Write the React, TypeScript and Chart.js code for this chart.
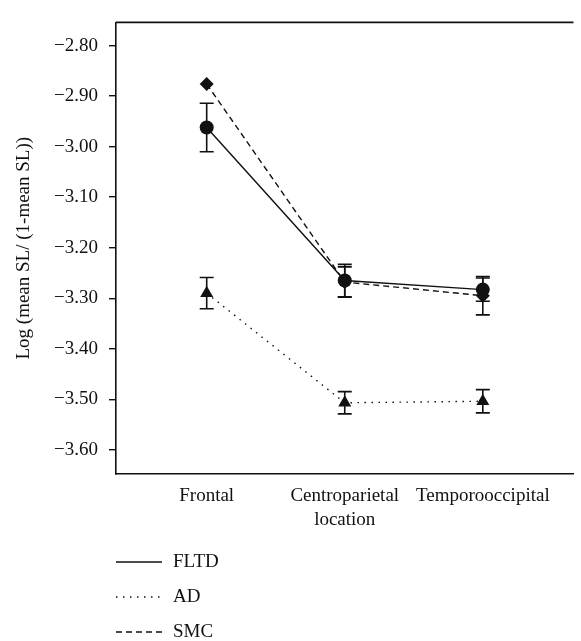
import React, { useEffect, useRef } from 'react';
import { Chart, registerables } from 'chart.js';

Chart.register(...registerables);

const categories = ['Frontal', 'Centroparietal', 'Temporooccipital'];
const categoryPositions = [1, 2, 3];
const seriesNames = ['FLTD', 'AD', 'SMC'];
const fltdMeans = [-2.962, -3.265, -3.283];
const fltdErrors = [0.048, 0.032, 0.023];
const adMeans = [-3.29, -3.507, -3.504];
const adErrors = [0.031, 0.022, 0.023];
const smcMeans = [-2.876, -3.268, -3.295];
const smcErrors = [0, 0.03, 0.038];
const yTickValues = [-2.8, -2.9, -3.0, -3.1, -3.2, -3.3, -3.4, -3.5, -3.6];
const xAxisTitle = 'location';
const yAxisTitle = 'Log (mean SL/ (1-mean SL))';

const FONT = "'Liberation Serif', 'Times New Roman', serif";
const FONT_SIZE = 19;
const INK = '#111111';

const errorsByDataset = [fltdErrors, adErrors, smcErrors];

const errorBarPlugin = {
  id: 'errorBars',
  beforeDatasetsDraw(chart: any) {
    const { ctx } = chart;
    const yScale = chart.scales.y;
    ctx.save();
    ctx.strokeStyle = INK;
    ctx.lineWidth = 1.6;
    ctx.setLineDash([]);
    chart.data.datasets.forEach((ds: any, i: number) => {
      const meta = chart.getDatasetMeta(i);
      const errs = errorsByDataset[i];
      meta.data.forEach((pt: any, j: number) => {
        const e = errs[j];
        if (!e) return;
        const v = ds.data[j].y;
        const x = pt.x;
        const yTop = yScale.getPixelForValue(v + e);
        const yBot = yScale.getPixelForValue(v - e);
        const cap = 7;
        ctx.beginPath();
        ctx.moveTo(x, yTop);
        ctx.lineTo(x, yBot);
        ctx.moveTo(x - cap, yTop);
        ctx.lineTo(x + cap, yTop);
        ctx.moveTo(x - cap, yBot);
        ctx.lineTo(x + cap, yBot);
        ctx.stroke();
      });
    });
    ctx.restore();
  },
};

const frameAndLegendPlugin = {
  id: 'frameAndLegend',
  afterDraw(chart: any) {
    const { ctx, chartArea } = chart;
    ctx.save();
    ctx.strokeStyle = INK;
    ctx.lineWidth = 1.6;
    ctx.setLineDash([]);
    ctx.beginPath();
    ctx.moveTo(chartArea.left, chartArea.top);
    ctx.lineTo(chartArea.right, chartArea.top);
    ctx.stroke();

    const startY = chartArea.bottom + 88;
    const step = 35;
    const x0 = chartArea.left;
    const x1 = chartArea.left + 46;
    ctx.font = `${FONT_SIZE}px ${FONT}`;
    ctx.textBaseline = 'middle';
    ctx.textAlign = 'left';
    chart.data.datasets.forEach((ds: any, i: number) => {
      const y = startY + i * step;
      ctx.strokeStyle = INK;
      ctx.lineWidth = ds.borderWidth;
      ctx.setLineDash(ds.borderDash || []);
      ctx.beginPath();
      ctx.moveTo(x0, y);
      ctx.lineTo(x1, y);
      ctx.stroke();
      ctx.setLineDash([]);
      ctx.fillStyle = INK;
      ctx.fillText(ds.label, x1 + 11, y);
    });
    ctx.restore();
  },
};

function toPoints(values: number[]) {
  return values.map((v, i) => ({ x: categoryPositions[i], y: v }));
}

export default function App() {
  const canvasRef = useRef<HTMLCanvasElement | null>(null);

  useEffect(() => {
    if (!canvasRef.current) return;
    const common = {
      showLine: true,
      borderColor: INK,
      backgroundColor: INK,
      pointBackgroundColor: INK,
      pointBorderColor: INK,
      pointBorderWidth: 0,
      borderWidth: 1.4,
      fill: false,
      tension: 0,
    };
    const chart = new Chart(canvasRef.current, {
      type: 'scatter',
      data: {
        datasets: [
          {
            ...common,
            label: seriesNames[0],
            data: toPoints(fltdMeans),
            pointStyle: 'circle',
            pointRadius: 7,
            borderDash: [],
          },
          {
            ...common,
            label: seriesNames[1],
            data: toPoints(adMeans),
            pointStyle: 'triangle',
            pointRadius: 7.5,
            borderDash: [1.5, 5.5],
          },
          {
            ...common,
            label: seriesNames[2],
            data: toPoints(smcMeans),
            pointStyle: 'rectRot',
            pointRadius: 7,
            borderDash: [6, 4],
          },
        ],
      } as any,
      options: {
        animation: false,
        responsive: false,
        maintainAspectRatio: false,
        layout: { padding: { top: 9, right: 3, bottom: 107, left: 0 } },
        plugins: {
          legend: { display: false },
          tooltip: { enabled: false },
        },
        scales: {
          x: {
            type: 'linear',
            min: 0.343,
            max: 3.657,
            afterBuildTicks(scale: any) {
              scale.ticks = categoryPositions.map((v) => ({ value: v }));
            },
            afterFit(scale: any) {
              scale.height = 60;
            },
            grid: { display: false, drawTicks: false },
            border: { display: true, color: INK, width: 1.6 },
            ticks: {
              autoSkip: false,
              maxRotation: 0,
              padding: 11,
              color: INK,
              font: { family: FONT, size: FONT_SIZE },
              callback(value: any) {
                const idx = categoryPositions.indexOf(Number(value));
                return idx >= 0 ? categories[idx] : '';
              },
            },
            title: {
              display: true,
              text: xAxisTitle,
              color: INK,
              font: { family: FONT, size: FONT_SIZE },
              padding: { top: 0, bottom: 3 },
            },
          },
          y: {
            type: 'linear',
            min: -3.648,
            max: -2.754,
            afterBuildTicks(scale: any) {
              scale.ticks = yTickValues.map((v) => ({ value: v }));
            },
            afterFit(scale: any) {
              scale.width = 116;
            },
            grid: {
              display: true,
              drawOnChartArea: false,
              drawTicks: true,
              tickLength: 7,
              color: INK,
              lineWidth: 1.4,
            },
            border: { display: true, color: INK, width: 1.6 },
            ticks: {
              padding: 11,
              color: INK,
              font: { family: FONT, size: FONT_SIZE },
              callback(value: any) {
                return Number(value).toFixed(2).replace('-', '\u2212');
              },
            },
            title: {
              display: true,
              text: yAxisTitle,
              color: INK,
              font: { family: FONT, size: FONT_SIZE },
              padding: { top: 13, bottom: 0 },
            },
          },
        },
      } as any,
      plugins: [errorBarPlugin, frameAndLegendPlugin],
    });
    return () => chart.destroy();
  }, []);

  return (
    <div style={{ position: 'fixed', left: 0, top: 0, width: 581, height: 641, background: '#fff' }}>
      <canvas ref={canvasRef} width={581} height={641} style={{ display: 'block' }} />
    </div>
  );
}
